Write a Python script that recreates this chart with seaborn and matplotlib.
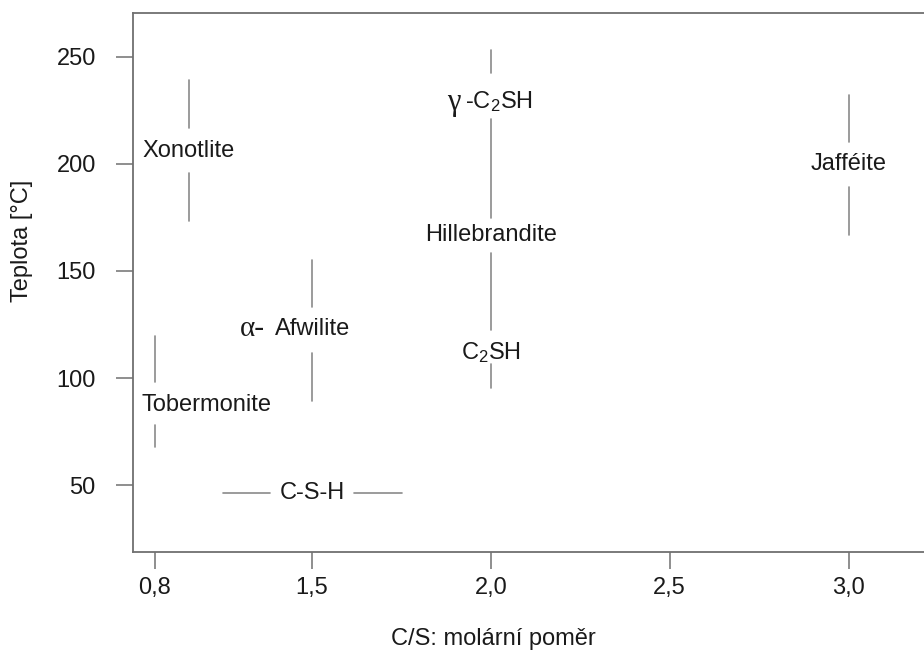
import matplotlib
matplotlib.use("Agg")
import matplotlib.pyplot as plt
import seaborn as sns
import pandas as pd

# ---- data -------------------------------------------------------------
# line segments (temperature ranges, C/S ratio on the chart's x scale)
seg_x0 = [1.156, 1.156, 2.0, 2.0, 2.0, 2.0, 3.0, 3.0, 1.5, 1.5, 1.06, 1.06, 1.252, 1.618]
seg_x1 = [1.156, 1.156, 2.0, 2.0, 2.0, 2.0, 3.0, 3.0, 1.5, 1.5, 1.06, 1.06, 1.381, 1.751]
seg_y0 = [239.1, 195.7, 253.1, 220.9, 158.3, 106.5, 232.1, 189.1, 155.0, 111.7, 119.6, 78.0, 46.4, 46.4]
seg_y1 = [216.7, 173.3, 242.4, 174.7, 122.4, 95.3, 210.2, 166.7, 133.2, 89.3, 98.2, 67.6, 46.4, 46.4]

# phase labels
label_text = ["Xonotlite", "Hillebrandite", "C$_{\\mathrm{2}}$SH", "Jafféite",
              "Afwilite", "Tobermonite", "C-S-H"]
label_x = [1.156, 2.0, 2.0, 3.0, 1.5, 1.206, 1.5]
label_y = [206.2, 166.7, 112.1, 199.8, 122.7, 87.4, 46.1]

# labels with greek prefix
gamma_xy = (2.0, 229.2)
alpha_xy = (1.5, 122.7)

xtick_pos = [1.06, 1.5, 2.0, 2.5, 3.0]
xtick_labels = ["0,8", "1,5", "2,0", "2,5", "3,0"]
ytick_pos = [50, 100, 150, 200, 250]

# ---- build long table for seaborn ------------------------------------
rows = []
for i, (a, b, c, d) in enumerate(zip(seg_x0, seg_x1, seg_y0, seg_y1)):
    rows.append({"seg": i, "order": 0, "x": a, "y": c})
    rows.append({"seg": i, "order": 1, "x": b, "y": d})
df = pd.DataFrame(rows)

# ---- style --------------------------------------------------------------
sns.set_theme(style="white")
plt.rcParams["font.family"] = ["Liberation Sans", "DejaVu Sans"]
plt.rcParams["mathtext.fontset"] = "custom"
plt.rcParams["mathtext.rm"] = "Liberation Sans"
plt.rcParams["mathtext.it"] = "Liberation Sans:italic"
plt.rcParams["mathtext.bf"] = "Liberation Sans:bold"

SPINE = "#707070"
LINE = "#8a8a8a"
TXT = "#1a1a1a"

W, H = 924, 651
fig = plt.figure(figsize=(W / 100, H / 100), dpi=100)
left, right, top, bottom = 133.3, 924.0, 12.7, 552.3
ax = fig.add_axes([left / W, (H - bottom) / H, (right - left) / W, (bottom - top) / H])

sns.lineplot(data=df, x="x", y="y", units="seg", estimator=None, sort=False,
             color=LINE, linewidth=1.2, ax=ax, legend=False)

ax.set_xlim(1.0, 3.211)
ax.set_ylim(18.6, 270.6)

for t, x, y in zip(label_text, label_x, label_y):
    ax.text(x, y, t, ha="center", va="center", fontsize=17, color=TXT)

# gamma - C2SH
ax.annotate("γ", xy=gamma_xy, xytext=(-22, -1), textcoords="offset points",
            ha="right", va="center", fontsize=22, color=TXT,
            family=["Liberation Serif", "DejaVu Serif"])
ax.annotate("-C$_{\\mathrm{2}}$SH", xy=gamma_xy, xytext=(-19, 0), textcoords="offset points",
            ha="left", va="center", fontsize=17, color=TXT)
# alpha - Afwilite
ax.annotate("α-", xy=alpha_xy, xytext=(-34, 0), textcoords="offset points",
            ha="right", va="center", fontsize=21, color=TXT,
            family=["Liberation Serif", "DejaVu Serif"])

ax.set_xticks(xtick_pos, xtick_labels)
ax.set_yticks(ytick_pos, [str(v) for v in ytick_pos])
ax.tick_params(axis="both", which="major", direction="out", length=12, width=1.1,
               color=SPINE, labelsize=17, labelcolor=TXT, bottom=True, left=True)
ax.tick_params(axis="x", pad=6)
ax.tick_params(axis="y", pad=15)

for side in ["left", "bottom", "top"]:
    ax.spines[side].set_visible(True)
    ax.spines[side].set_color(SPINE)
    ax.spines[side].set_linewidth(1.3)
ax.spines["right"].set_visible(False)

ax.set_xlabel("C/S: molární poměr", fontsize=17, color=TXT)
ax.set_ylabel("Teplota [°C]", fontsize=17, color=TXT)
ax.xaxis.label.set_va("center")
ax.yaxis.label.set_va("center")
ax.xaxis.set_label_coords(0.456, -0.160)
ax.yaxis.set_label_coords(-0.141, 0.578)

fig.savefig("out.png", dpi=100)
